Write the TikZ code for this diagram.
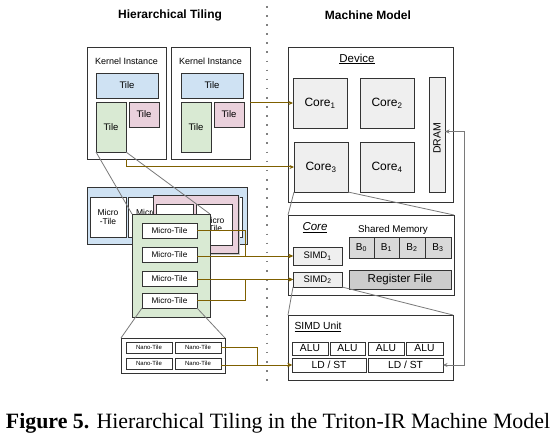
\documentclass[tikz,border=0pt]{standalone}
\usepackage{fontspec}
\setsansfont{Liberation Sans}
\newfontfamily\capfont{Liberation Serif}
\usepackage{graphicx}
\usetikzlibrary{arrows.meta,calc}
\definecolor{tileblue}{HTML}{CFE2F3}
\definecolor{tilepink}{HTML}{EAD1DC}
\definecolor{tilegreen}{HTML}{D9EAD3}
\definecolor{coregray}{HTML}{EFEFEF}
\definecolor{bgray}{HTML}{D9D9D9}
\definecolor{rfgray}{HTML}{CCCCCC}
\definecolor{goldc}{HTML}{7F6000}
\definecolor{connc}{HTML}{7A7A7A}
\definecolor{edgec}{HTML}{333333}
\newcommand{\fs}[1]{\fontsize{#1}{#1}\selectfont}
\newcommand{\bxnode}[7]{\node[bx,#1,minimum width={(#5-#3)*1pt},minimum height={(#6-#4)*1pt}] (#2) at (#3,#4) {#7};}
\tikzset{
 bx/.style={draw=edgec, line width=0.8pt, inner sep=0pt, outer sep=0pt, anchor=north west, font=\sffamily, align=center},
 lbl/.style={font=\sffamily, inner sep=0pt},
 goldline/.style={draw=goldc, line width=1pt},
 goldarrow/.style={goldline, -{Stealth[length=4.5pt,width=4pt]}},
 grayline/.style={draw=connc, line width=0.8pt},
}
\begin{document}
\begin{tikzpicture}[x=1pt,y=-1pt]
\useasboundingbox (0,0) rectangle (557,441);
\fill[white] (0,0) rectangle (557,441);

% titles
\node[lbl,font=\sffamily\bfseries\fs{12}] (t1) at (170,15) {Hierarchical Tiling};
\node[lbl,font=\sffamily\bfseries\fs{12}] (t2) at (368,15) {Machine Model};

% divider
\coordinate (d1) at (267,6);
\coordinate (d2) at (267,383);
\draw[draw=gray, line width=1.6pt, dash pattern=on 1.6pt off 7.5pt] (d1) -- (d2);

% kernel instances
\bxnode{fill=white}{K1}{87}{47}{166}{159}{}
\node[lbl,font=\sffamily\fs{9}] (K1l) at (126.5,61) {Kernel Instance};
\bxnode{fill=tileblue,font=\sffamily\fs{9.5}}{K1b}{96}{73}{158}{98}{Tile}
\bxnode{fill=tilegreen,font=\sffamily\fs{9.5}}{K1g}{96}{102}{126}{152}{Tile}
\bxnode{fill=tilepink,font=\sffamily\fs{9.5}}{K1p}{129}{102}{159}{127}{Tile}

\bxnode{fill=white}{K2}{171}{47}{250}{159}{}
\node[lbl,font=\sffamily\fs{9}] (K2l) at (210.5,61) {Kernel Instance};
\bxnode{fill=tileblue,font=\sffamily\fs{9.5}}{K2b}{181}{73}{243}{98}{Tile}
\bxnode{fill=tilegreen,font=\sffamily\fs{9.5}}{K2g}{181}{102}{211}{152}{Tile}
\bxnode{fill=tilepink,font=\sffamily\fs{9.5}}{K2p}{214}{102}{244}{127}{Tile}

% blue micro group
\bxnode{fill=tileblue}{BG}{87}{187}{247}{244}{}
\bxnode{fill=white,font=\sffamily\fs{8.5}}{BM1}{90}{197}{126}{237}{Micro\\-Tile}
\bxnode{fill=white,font=\sffamily\fs{8.5}}{BM2}{128}{197}{165}{237}{Micro\\-Tile}
\bxnode{fill=white,font=\sffamily\fs{8.5}}{BM3}{167}{197}{204}{237}{Micro\\-Tile}
\bxnode{fill=white,font=\sffamily\fs{8.5}}{BM4}{206}{197}{242}{237}{Micro\\-Tile}

% pink micro group
\fill[black!22] (155,197) rectangle (240,255);
\bxnode{fill=tilepink}{PG}{153}{195}{238}{253}{}
\bxnode{fill=white,font=\sffamily\fs{8.5}}{PM1}{156}{204}{193}{245}{Micro\\-Tile}
\bxnode{fill=white,font=\sffamily\fs{8.5}}{PM2}{196}{204}{232}{245}{Micro\\-Tile}

% green micro group
\bxnode{fill=tilegreen}{G}{132}{214}{210}{317}{}
\bxnode{fill=white,font=\sffamily\fs{8.2}}{MT1}{142}{223}{197}{238}{Micro-Tile}
\bxnode{fill=white,font=\sffamily\fs{8.2}}{MT2}{142}{247}{197}{262}{Micro-Tile}
\bxnode{fill=white,font=\sffamily\fs{8.2}}{MT3}{142}{271}{197}{286}{Micro-Tile}
\bxnode{fill=white,font=\sffamily\fs{8.2}}{MT4}{142}{293}{197}{308}{Micro-Tile}

% nano tiles
\bxnode{fill=white}{NB}{121}{338}{225}{373}{}
\bxnode{fill=white,font=\sffamily\fs{6}}{N1}{126}{342}{172}{353}{Nano-Tile}
\bxnode{fill=white,font=\sffamily\fs{6}}{N2}{175}{342}{221}{353}{Nano-Tile}
\bxnode{fill=white,font=\sffamily\fs{6}}{N3}{126}{358}{172}{369}{Nano-Tile}
\bxnode{fill=white,font=\sffamily\fs{6}}{N4}{175}{358}{221}{369}{Nano-Tile}

% device
\bxnode{fill=white}{Dev}{288}{47}{453}{202}{}
\node[lbl,font=\sffamily\fs{11.5}] (Devl) at (357,59) {\underline{Device}};
\bxnode{fill=coregray,font=\sffamily\fs{12}}{Core1}{293}{78}{347}{128}{Core\textsubscript{1}}
\bxnode{fill=coregray,font=\sffamily\fs{12}}{Core2}{360}{78}{414}{128}{Core\textsubscript{2}}
\bxnode{fill=coregray,font=\sffamily\fs{12}}{Core3}{294}{142}{348}{192}{Core\textsubscript{3}}
\bxnode{fill=coregray,font=\sffamily\fs{12}}{Core4}{360}{142}{414}{192}{Core\textsubscript{4}}
\bxnode{fill=coregray}{DRAM}{429}{77}{445}{192}{}
\node[lbl,font=\sffamily\fs{10.5},rotate=90] (DRAMl) at ($(DRAM.center)+(0,4)$) {DRAM};

% core
\bxnode{fill=white}{CB}{288}{215}{454}{295}{}
\node[lbl,font=\sffamily\itshape\fs{11.5}] (CBl) at (315,228) {\underline{Core}};
\node[lbl,font=\sffamily\fs{9.8}] (SMl) at (393,230) {Shared Memory};
\bxnode{fill=bgray,font=\sffamily\fs{10}}{B0}{349}{237}{374}{258}{B\textsubscript{0}}
\bxnode{fill=bgray,font=\sffamily\fs{10}}{B1}{374}{237}{399}{258}{B\textsubscript{1}}
\bxnode{fill=bgray,font=\sffamily\fs{10}}{B2}{399}{237}{425}{258}{B\textsubscript{2}}
\bxnode{fill=bgray,font=\sffamily\fs{10}}{B3}{425}{237}{451}{258}{B\textsubscript{3}}
\bxnode{fill=rfgray,font=\sffamily\fs{11.5}}{RF}{349}{270}{451}{289}{Register File}
\bxnode{fill=coregray,font=\sffamily\fs{9.5}}{SIMD1}{293}{247}{342}{265}{SIMD\textsubscript{1}}
\bxnode{fill=coregray,font=\sffamily\fs{9.5}}{SIMD2}{293}{272}{342}{287}{SIMD\textsubscript{2}}

% SIMD unit
\bxnode{fill=white}{SU}{288}{315}{453}{380}{}
\node[lbl,font=\sffamily\fs{10.3}] (SUl) at (318,327) {\underline{SIMD Unit}};
\bxnode{fill=white,font=\sffamily\fs{10.3}}{A1}{292}{342}{328}{355}{ALU}
\bxnode{fill=white,font=\sffamily\fs{10.3}}{A2}{330}{342}{365}{355}{ALU}
\bxnode{fill=white,font=\sffamily\fs{10.3}}{A3}{368}{342}{404}{355}{ALU}
\bxnode{fill=white,font=\sffamily\fs{10.3}}{A4}{406}{342}{443}{355}{ALU}
\bxnode{fill=white,font=\sffamily\fs{10.3}}{LD1}{292}{358}{366}{372}{LD / ST}
\bxnode{fill=white,font=\sffamily\fs{10.3}}{LD2}{368}{358}{443}{372}{LD / ST}

% junction columns
\coordinate (jx) at (245,0);
\coordinate (nx) at (257,0);
\coordinate (dx) at (464,0);
\coordinate (dramin) at ($(DRAM.east)+(0,-3)$);

% gray zoom lines
\draw[grayline] (K1g.south west) -- (G.north west);
\draw[grayline] (K1g.south east) -- (G.north east);
\draw[grayline] (Core3.south west) -- (CB.north west);
\draw[grayline] (Core3.south east) -- (CB.north east);
\draw[grayline] (SIMD2.south west) -- (SU.north west);
\draw[grayline] (SIMD2.south east) -- (SU.north east);
\draw[grayline] (MT4.south west) -- (NB.north west);
\draw[grayline] (MT4.south east) -- (NB.north east);

% gold mapping arrows
\draw[goldarrow] (K2.east) -- (Core1.west);
\draw[goldarrow] (K1g.east |- K1.south) |- (Core3.west);
\draw[goldarrow] (MT1.east) -| (jx |- SIMD1.west) -- (SIMD1.west);
\draw[goldarrow] (MT2.east |- SIMD1.west) -- (SIMD1.west);
\draw[goldarrow] (MT3.east |- SIMD2.west) -- (SIMD2.west);
\draw[goldarrow] (MT4.east) -| (jx |- SIMD2.west) -- (SIMD2.west);
\draw[goldarrow] (N2.east) -| (nx |- LD1.west) -- (LD1.west);
\draw[goldarrow] (N4.east |- LD1.west) -- (LD1.west);

% DRAM link
\draw[grayline,{Stealth[length=4.5pt,width=4pt]}-{Stealth[length=4.5pt,width=4pt]}] (LD2.east) -| (dx |- dramin) -- (dramin);

% caption
\node[anchor=base,inner sep=0pt] (cap) at (278,428) {\resizebox{544pt}{!}{\capfont\textbf{Figure 5.} Hierarchical Tiling in the Triton-IR Machine Model}};
\end{tikzpicture}
\end{document}
